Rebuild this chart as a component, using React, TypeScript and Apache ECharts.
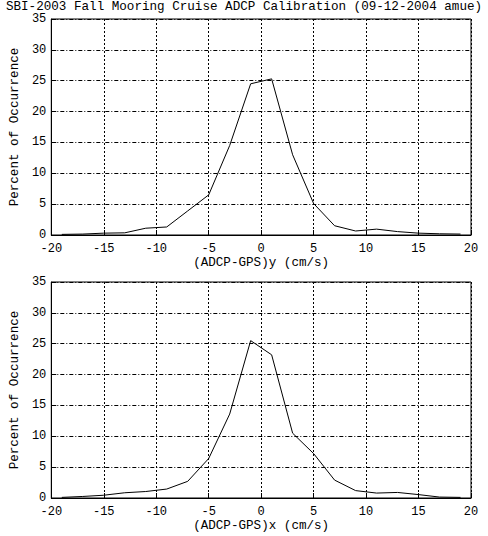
import React, { useEffect, useRef } from "react";
import * as echarts from "echarts";

const titleText = "SBI-2003 Fall Mooring Cruise ADCP Calibration (09-12-2004 amue)";
const yTitle = "Percent of Occurrence";
const xTitleTop = "(ADCP-GPS)y (cm/s)";
const xTitleBottom = "(ADCP-GPS)x (cm/s)";

const xBins = [-19, -17, -15, -13, -11, -9, -7, -5, -3, -1, 1, 3, 5, 7, 9, 11, 13, 15, 17, 19];
const topPercent = [0.1, 0.15, 0.3, 0.35, 1.1, 1.3, 3.9, 6.5, 14.5, 24.5, 25.3, 13.0, 5.1, 1.5, 0.65, 0.95, 0.55, 0.3, 0.2, 0.15];
const bottomPercent = [0.1, 0.25, 0.45, 0.85, 1.05, 1.45, 2.7, 6.4, 13.6, 25.5, 23.2, 10.5, 7.2, 2.9, 1.2, 0.8, 0.9, 0.55, 0.15, 0.1];

const FONT = "'Liberation Mono', 'DejaVu Sans Mono', monospace";
const FS = 12.6;
const LFS = 12;

function xAxisFor(gridIndex: number, name: string) {
  return {
    type: "value",
    gridIndex,
    min: -20,
    max: 20,
    interval: 5,
    name,
    nameLocation: "middle",
    nameGap: 21,
    nameTextStyle: { color: "#000", fontFamily: FONT, fontSize: FS },
    axisLine: { show: true, onZero: false, lineStyle: { color: "#000", width: 1 } },
    axisTick: { show: true, inside: true, length: 5, lineStyle: { color: "#000" } },
    axisLabel: { color: "#000", fontFamily: FONT, fontSize: LFS, margin: 8 },
    splitLine: { show: true, lineStyle: { color: "#000", width: 1, type: [2, 2] } },
  };
}

function yAxisFor(gridIndex: number) {
  return {
    type: "value",
    gridIndex,
    min: 0,
    max: 35,
    interval: 5,
    name: yTitle,
    nameLocation: "middle",
    nameRotate: 90,
    nameGap: 26,
    nameTextStyle: { color: "#000", fontFamily: FONT, fontSize: FS },
    axisLine: { show: true, onZero: false, lineStyle: { color: "#000", width: 1 } },
    axisTick: { show: true, inside: true, length: 5, lineStyle: { color: "#000" } },
    axisLabel: { color: "#000", fontFamily: FONT, fontSize: LFS, margin: 5 },
    splitLine: { show: true, lineStyle: { color: "#000", width: 1, type: [4, 2, 1, 2] } },
  };
}

export default function App() {
  const ref = useRef<HTMLDivElement>(null);
  useEffect(() => {
    if (!ref.current) return;
    const chart = echarts.init(ref.current, undefined, { renderer: "svg" });
    const topData = xBins.map((x, i) => [x, topPercent[i]]);
    const bottomData = xBins.map((x, i) => [x, bottomPercent[i]]);
    chart.setOption({
      animation: false,
      backgroundColor: "#fff",
      title: {
        text: titleText,
        left: "center",
        top: 0,
        padding: 0,
        textStyle: { color: "#000", fontFamily: FONT, fontSize: FS, fontWeight: "normal", lineHeight: 13 },
      },
      grid: [
        { left: 40, top: 19, width: 431, height: 216, show: true, borderColor: "#000", borderWidth: 1, backgroundColor: "transparent" },
        { left: 40, top: 282, width: 431, height: 216, show: true, borderColor: "#000", borderWidth: 1, backgroundColor: "transparent" },
      ],
      xAxis: [xAxisFor(0, xTitleTop), xAxisFor(1, xTitleBottom)],
      yAxis: [yAxisFor(0), yAxisFor(1)],
      series: [
        {
          type: "line",
          xAxisIndex: 0,
          yAxisIndex: 0,
          data: topData,
          showSymbol: false,
          lineStyle: { color: "#000", width: 1 },
        },
        {
          type: "line",
          xAxisIndex: 1,
          yAxisIndex: 1,
          data: bottomData,
          showSymbol: false,
          lineStyle: { color: "#000", width: 1 },
        },
      ],
    });
    return () => chart.dispose();
  }, []);
  return (
    <div
      ref={ref}
      style={{ position: "fixed", left: 0, top: 0, width: 488, height: 536, background: "#fff" }}
    />
  );
}
